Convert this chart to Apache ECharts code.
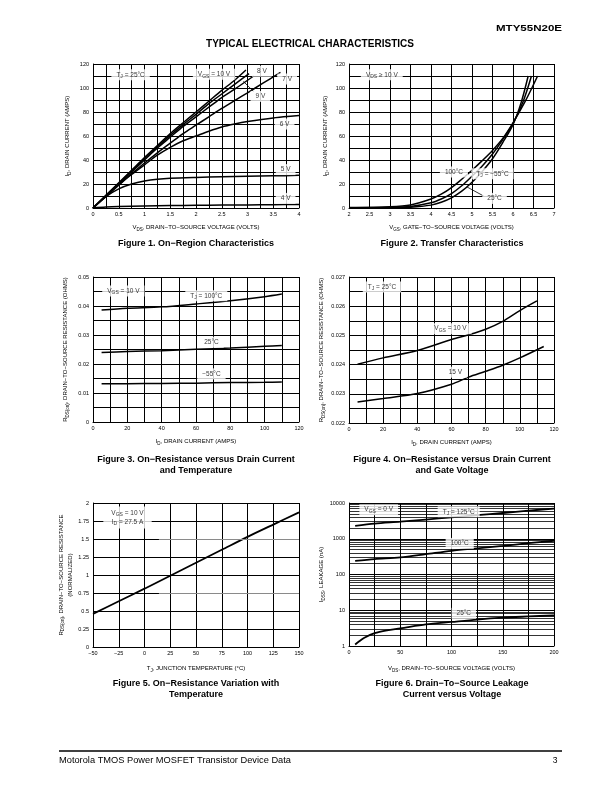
<!DOCTYPE html>
<html><head><meta charset="utf-8">
<script src="https://cdn.jsdelivr.net/npm/echarts@6/dist/echarts.min.js"></script>
<style>html,body{margin:0;padding:0;background:#fff}#c{width:612px;height:792px}</style>
</head><body><div id="c"></div>
<script>
const FONT = '"Liberation Sans", Arial, Helvetica, sans-serif';

// ---------- Figure 1: On-Region Characteristics ----------
const fig1XTicks = ['0','0.5','1','1.5','2','2.5','3','3.5','4'];
const fig1YTicks = ['0','20','40','60','80','100','120'];
const fig1Vgs10 = [[0,0],[0.25,10.5],[0.5,21],[0.75,31.5],[1,42],[1.25,52],[1.5,62],[1.75,71],[2,80],[2.25,89],[2.5,98],[2.75,106.5],[2.97,115]];
const fig1Vgs9  = [[0,0],[0.25,10.3],[0.5,20.5],[0.75,31],[1,41],[1.25,51],[1.5,60.5],[1.75,69.5],[2,78],[2.25,87],[2.5,95],[2.75,103],[3.03,112]];
const fig1Vgs8  = [[0,0],[0.25,10],[0.5,20],[0.75,30],[1,40],[1.25,50],[1.5,59],[1.75,68],[2,76],[2.25,84],[2.5,92],[2.75,99],[3.12,110]];
const fig1Vgs7  = [[0,0],[0.25,9.5],[0.5,19],[0.75,28.5],[1,37.5],[1.25,46],[1.5,54],[1.75,62],[2,69],[2.25,76],[2.5,83],[2.75,89.5],[3,96],[3.3,104],[3.64,113]];
const fig1Vgs6  = [[0,0],[0.25,10],[0.5,19.5],[0.75,28],[1,36],[1.25,44],[1.5,50.5],[1.75,56],[2,60],[2.25,64],[2.5,67.5],[2.75,70],[3,72],[3.5,75],[4,77]];
const fig1Vgs5  = [[0,0],[0.1,4],[0.25,9.5],[0.5,16],[0.75,20],[1,22.5],[1.25,24],[1.5,24.8],[2,25.5],[2.5,26],[3,26.4],[3.5,26.8],[4,27.2]];
const fig1Vgs4  = [[0,0],[0.25,0.8],[0.5,1.2],[1,1.6],[1.5,2],[2,2.2],[2.5,2.4],[3,2.6],[3.5,2.8],[4,3]];

// ---------- Figure 2: Transfer Characteristics ----------
const fig2XTicks = ['2','2.5','3','3.5','4','4.5','5','5.5','6','6.5','7'];
const fig2YTicks = ['0','20','40','60','80','100','120'];
const fig2T100 = [[2,0.4],[3,1],[3.5,2.5],[4,7.5],[4.25,11.5],[4.5,17],[4.75,24],[5,31.5],[5.25,39.5],[5.5,48],[5.75,58],[6,71],[6.3,89],[6.6,110]];
const fig2T25  = [[2,0.3],[3,0.5],[3.5,1.3],[4,4.3],[4.25,7.5],[4.5,12],[4.75,18.5],[5,26.5],[5.25,35],[5.5,45],[5.75,57],[6,70.5],[6.25,89],[6.45,110]];
const fig2Tm55 = [[2,0.2],[3,0.3],[3.5,0.7],[4,2.4],[4.25,4.8],[4.5,8.5],[4.75,14],[5,21.5],[5.25,30.5],[5.5,41],[5.75,54.5],[6,69.5],[6.2,88],[6.37,110]];

// ---------- Figure 3: On-Resistance vs Drain Current and Temperature ----------
const fig3XTicks = ['0','20','40','60','80','100','120'];
const fig3YTicks = ['0','0.01','0.02','0.03','0.04','0.05'];
const fig3T100 = [[5,0.0386],[20,0.0392],[40,0.0397],[60,0.0407],[80,0.0418],[100,0.0432],[110,0.0441]];
const fig3T25  = [[5,0.0240],[20,0.0243],[40,0.0246],[60,0.0251],[80,0.0255],[100,0.0261],[110,0.0264]];
const fig3Tm55 = [[5,0.0132],[20,0.0132],[40,0.0133],[60,0.0134],[80,0.0136],[100,0.0137],[110,0.0138]];

// ---------- Figure 4: On-Resistance vs Drain Current and Gate Voltage ----------
const fig4XTicks = ['0','20','40','60','80','100','120'];
const fig4YTicks = ['0.022','0.023','0.024','0.025','0.026','0.027'];
const fig4Vgs10 = [[5,0.02401],[20,0.02423],[40,0.02448],[60,0.02486],[70,0.02502],[80,0.02521],[90,0.02548],[100,0.02585],[110,0.02618]];
const fig4Vgs15 = [[5,0.02272],[20,0.02284],[40,0.02301],[60,0.02333],[70,0.02357],[80,0.02377],[90,0.02398],[100,0.02423],[114,0.02462]];

// ---------- Figure 5: On-Resistance Variation with Temperature ----------
const fig5XTicks = ['−50','−25','0','25','50','75','100','125','150'];
const fig5YTicks = ['0','0.25','0.5','0.75','1','1.25','1.5','1.75','2'];
const fig5Rds = [[-50,0.46],[-25,0.635],[0,0.81],[25,0.99],[50,1.17],[75,1.35],[100,1.53],[125,1.70],[150,1.87]];

// ---------- Figure 6: Drain-To-Source Leakage Current vs Voltage ----------
const fig6XTicks = ['0','50','100','150','200'];
const fig6YTicks = ['1','10','100','1000','10000'];
const fig6T125 = [[6,2300],[25,2650],[50,3000],[75,3450],[100,3950],[125,4550],[150,5250],[175,6100],[200,7000]];
const fig6T100 = [[6,240],[25,270],[50,300],[75,370],[100,460],[125,540],[150,630],[175,750],[200,880]];
const fig6T25  = [[6,1.1],[10,1.35],[15,1.7],[25,2.3],[37,2.75],[50,3.1],[75,4.0],[100,4.7],[125,5.5],[150,6.2],[175,6.7],[200,7.2]];
const fig6MinorTicks = [];
[1,10,100,1000].forEach(d => { for (let k = 2; k <= 9; k++) fig6MinorTicks.push(k * d); });

// ---------- rich text styles ----------
const R = {
  n: {fontSize: 6, fontFamily: FONT, color: '#000', lineHeight: 9},
  s: {fontSize: 4.5, fontFamily: FONT, color: '#000', lineHeight: 4, verticalAlign: 'bottom'}
};
const AR = {
  na: {fontSize: 6.5, fontFamily: FONT, color: '#000', lineHeight: 9},
  nb: {fontSize: 5, fontFamily: FONT, color: '#000', lineHeight: 4, verticalAlign: 'bottom'}
};

const grids = [
  {left: 93, top: 64, width: 206, height: 144},
  {left: 349, top: 64, width: 205, height: 144},
  {left: 93, top: 277, width: 206, height: 145},
  {left: 349, top: 277, width: 205, height: 146},
  {left: 93, top: 503, width: 206, height: 144},
  {left: 349, top: 503, width: 205, height: 143}
];

function num(t) { return parseFloat(t.replace('−', '-')); }
function axis(o) {
  const majors = o.ticks.map(num);
  const a = {
    type: o.log ? 'log' : 'value', gridIndex: o.grid, min: o.min, max: o.max,
    name: o.name, nameLocation: 'middle', nameGap: o.gap, nameRotate: o.isY ? 90 : 0,
    nameTextStyle: {rich: R, fontFamily: FONT, fontSize: 6, color: '#000', lineHeight: 9},
    axisLine: {show: true, onZero: false, lineStyle: {color: '#000', width: 1}},
    axisTick: {show: false},
    axisLabel: {fontFamily: FONT, fontSize: 5.5, color: '#000', margin: o.isY ? 4 : 3,
      formatter: v => { const i = majors.findIndex(m => Math.abs(m - v) <= 1e-7 * Math.max(1, Math.abs(m))); return i >= 0 ? o.ticks[i] : ''; }},
    splitLine: {show: true, lineStyle: {color: '#000', width: 1}}
  };
  if (o.log) a.logBase = 10; else a.interval = o.step;
  return a;
}

const xAxes = [
  axis({grid: 0, min: 0, max: 4, step: 0.25, ticks: fig1XTicks, gap: 15, name: '{n|V}{s|DS}{n|, DRAIN−TO−SOURCE VOLTAGE (VOLTS)}'}),
  axis({grid: 1, min: 2, max: 7, step: 0.5, ticks: fig2XTicks, gap: 15, name: '{n|V}{s|GS}{n|, GATE−TO−SOURCE VOLTAGE (VOLTS)}'}),
  axis({grid: 2, min: 0, max: 120, step: 10, ticks: fig3XTicks, gap: 15, name: '{n|I}{s|D}{n|, DRAIN CURRENT (AMPS)}'}),
  axis({grid: 3, min: 0, max: 120, step: 10, ticks: fig4XTicks, gap: 15, name: '{n|I}{s|D}{n|, DRAIN CURRENT (AMPS)}'}),
  axis({grid: 4, min: -50, max: 150, step: 25, ticks: fig5XTicks, gap: 17, name: '{n|T}{s|J}{n|, JUNCTION TEMPERATURE (°C)}'}),
  axis({grid: 5, min: 0, max: 200, step: 25, ticks: fig6XTicks, gap: 18, name: '{n|V}{s|DS}{n|, DRAIN−TO−SOURCE VOLTAGE (VOLTS)}'})
];
const yAxes = [
  axis({grid: 0, isY: true, min: 0, max: 120, step: 10, ticks: fig1YTicks, gap: 21, name: '{n|I}{s|D}{n|, DRAIN CURRENT (AMPS)}'}),
  axis({grid: 1, isY: true, min: 0, max: 120, step: 10, ticks: fig2YTicks, gap: 19, name: '{n|I}{s|D}{n|, DRAIN CURRENT (AMPS)}'}),
  axis({grid: 2, isY: true, min: 0, max: 0.05, step: 0.005, ticks: fig3YTicks, gap: 23, name: '{n|R}{s|DS(on)}{n|, DRAIN−TO−SOURCE RESISTANCE (OHMS)}'}),
  axis({grid: 3, isY: true, min: 0.022, max: 0.027, step: 0.0005, ticks: fig4YTicks, gap: 23, name: '{n|R}{s|DS(on)}{n|, DRAIN−TO−SOURCE RESISTANCE (OHMS)}'}),
  axis({grid: 4, isY: true, min: 0, max: 2, step: 0.25, ticks: fig5YTicks, gap: 16, name: '{n|R}{s|DS(on)}{n|, DRAIN−TO−SOURCE RESISTANCE}\n{n|(NORMALIZED)}'}),
  axis({grid: 5, isY: true, log: true, min: 1, max: 10000, ticks: fig6YTicks, gap: 19, name: '{n|I}{s|DSS}{n|, LEAKAGE (nA)}'})
];

function curve(g, data, w) {
  return {type: 'line', xAxisIndex: g, yAxisIndex: g, data: data, symbol: 'none', showSymbol: false,
    smooth: 0.3, lineStyle: {color: '#000', width: w || 1.5}, z: 3, silent: true};
}
function notes(g, list, leaders, pad) {
  const s = {type: 'scatter', xAxisIndex: g, yAxisIndex: g, symbolSize: 1, itemStyle: {color: 'rgba(0,0,0,0)'},
    silent: true, z: 6,
    data: list.map(n => ({name: n[0], value: [n[1], n[2]]})),
    label: {show: true, position: 'inside', rich: AR, backgroundColor: '#fff', padding: pad || [1, 5],
      formatter: p => p.name}};
  if (leaders) s.markLine = {silent: true, symbol: ['none', 'none'], label: {show: false},
    lineStyle: {color: '#000', width: 0.8, type: 'solid'},
    data: leaders.map(l => [{coord: l[0]}, {coord: l[1]}])};
  return s;
}

const fig5Rdsline = curve(4, fig5Rds, 1.8);
fig5Rdsline.markLine = {silent: true, symbol: ['none', 'none'], label: {show: false},
  lineStyle: {color: '#8a8a8a', width: 1.2, type: 'solid'},
  data: [[{coord: [14, 1.5]}, {coord: [150, 1.5]}], [{coord: [14, 0.75]}, {coord: [150, 0.75]}]]};

const series = [
  curve(0, fig1Vgs10), curve(0, fig1Vgs9), curve(0, fig1Vgs8), curve(0, fig1Vgs7),
  curve(0, fig1Vgs6), curve(0, fig1Vgs5), curve(0, fig1Vgs4),
  notes(0, [
    ['{na|T}{nb|J}{na| = 25°C}', 0.73, 111],
    ['{na|V}{nb|GS}{na| = 10 V}', 2.35, 111.5],
    ['{na|8 V}', 3.28, 114],
    ['{na|7 V}', 3.77, 107.5],
    ['{na|9 V}', 3.25, 93],
    ['{na|6 V}', 3.72, 70],
    ['{na|5 V}', 3.74, 32],
    ['{na|4 V}', 3.74, 8]
  ], [[[2.92, 105.5], [3.12, 97]]]),

  curve(1, fig2T100), curve(1, fig2T25), curve(1, fig2Tm55),
  notes(1, [
    ['{na|V}{nb|DS}{na| ≥ 10 V}', 2.8, 111],
    ['{na|100°C}', 4.56, 30],
    ['{na|T}{nb|J}{na| = −55°C}', 5.5, 28.5],
    ['{na|25°C}', 5.55, 8]
  ], [[[4.88, 17.5], [5.3, 9.7]]]),

  curve(2, fig3T100), curve(2, fig3T25), curve(2, fig3Tm55),
  notes(2, [
    ['{na|V}{nb|GS}{na| = 10 V}', 17.7, 0.0452],
    ['{na|T}{nb|J}{na| = 100°C}', 66, 0.0435],
    ['{na|25°C}', 69, 0.0275],
    ['{na|−55°C}', 69, 0.0166]
  ]),

  curve(3, fig4Vgs10), curve(3, fig4Vgs15),
  notes(3, [
    ['{na|T}{nb|J}{na| = 25°C}', 19.3, 0.02666],
    ['{na|V}{nb|GS}{na| = 10 V}', 59.4, 0.02523],
    ['{na|15 V}', 62.3, 0.02374]
  ]),

  fig5Rdsline,
  notes(4, [
    ['{na|V}{nb|GS}{na| = 10 V}\n{na|I}{nb|D}{na| = 27.5 A}', -16.5, 1.80]
  ], null, [2, 8]),

  Object.assign(curve(5, fig6T125, 1.8), {markLine: {silent: true, symbol: ['none', 'none'], label: {show: false},
    lineStyle: {color: '#000', width: 0.8, type: 'solid'}, z: 1,
    data: fig6MinorTicks.map(v => ({yAxis: v}))}}),
  curve(5, fig6T100, 1.8), curve(5, fig6T25, 1.8),
  notes(5, [
    ['{na|V}{nb|GS}{na| = 0 V}', 29, 6500],
    ['{na|T}{nb|J}{na| = 125°C}', 107, 5700],
    ['{na|100°C}', 108, 740],
    ['{na|25°C}', 112, 8.2]
  ])
];

function fitScale(text, font, target) {
  const c = document.createElement('canvas').getContext('2d');
  c.font = font;
  return target / c.measureText(text).width;
}
function txt(text, x, y, size, weight, align, target) {
  const el = {type: 'text', x: x, y: y, silent: true,
    style: {text: text, fontSize: size, fontWeight: weight || 'normal', fontFamily: FONT, fill: '#000',
      textAlign: align || 'center', textVerticalAlign: 'middle'}};
  if (target) el.scaleX = fitScale(text, (weight === 'bold' ? 'bold ' : '') + size + 'px "Liberation Sans", Arial', target);
  return el;
}
const captions = [
  ['Figure 1. On−Region Characteristics', 196, 244],
  ['Figure 2. Transfer Characteristics', 452, 244],
  ['Figure 3. On−Resistance versus Drain Current', 196, 460],
  ['and Temperature', 196, 471],
  ['Figure 4. On−Resistance versus Drain Current', 452, 460],
  ['and Gate Voltage', 452, 471],
  ['Figure 5. On−Resistance Variation with', 196, 684],
  ['Temperature', 196, 695],
  ['Figure 6. Drain−To−Source Leakage', 452, 684],
  ['Current versus Voltage', 452, 695]
];
const graphic = [
  txt('MTY55N20E', 562, 28, 9.5, 'bold', 'right', 66),
  txt('TYPICAL ELECTRICAL CHARACTERISTICS', 310, 44, 10, 'bold', 'center', 208),
  {type: 'line', silent: true, shape: {x1: 59, y1: 751, x2: 562, y2: 751}, style: {stroke: '#000', lineWidth: 1.5}},
  txt('Motorola TMOS Power MOSFET Transistor Device Data', 59, 761, 8.5, 'normal', 'left', 232),
  txt('3', 555, 761, 8.5, 'normal', 'center')
].concat(captions.map(c => txt(c[0], c[1], c[2], 9, 'bold', 'center')));

const chart = echarts.init(document.getElementById('c'), null, {renderer: 'canvas'});
chart.setOption({
  animation: false,
  backgroundColor: '#fff',
  textStyle: {fontFamily: FONT},
  grid: grids,
  xAxis: xAxes,
  yAxis: yAxes,
  series: series,
  graphic: graphic
});
</script></body></html>
